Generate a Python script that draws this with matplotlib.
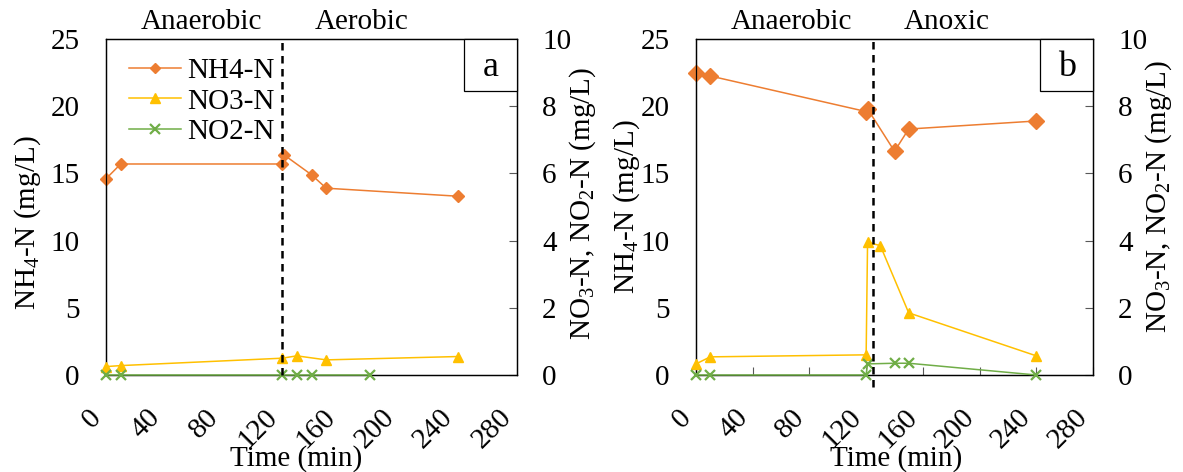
"""
Anaerobic / aerobic / anoxic N profiles (a, b)
"""
import matplotlib
matplotlib.use('Agg')
import matplotlib.pyplot as plt
from matplotlib.patches import Rectangle

plt.rcParams['font.family'] = ['Liberation Serif', 'DejaVu Serif']
plt.rcParams['mathtext.default'] = 'regular'
plt.rcParams['font.size'] = 21

# ── data ───────────────────────────────────────────────────────
time_nh4_a = [0, 10, 120, 121, 140, 150, 240]
nh4_a = [14.6, 15.7, 15.7, 16.4, 14.9, 13.9, 13.3]
time_no3_a = [0, 10, 120, 130, 150, 240]
no3_a = [0.25, 0.28, 0.50, 0.57, 0.45, 0.55]
time_no2_a = [0, 10, 120, 130, 140, 180]
no2_a = [0, 0, 0, 0, 0, 0]

time_nh4_b = [0, 10, 120, 121, 140, 150, 240]
nh4_b = [22.5, 22.25, 19.6, 19.8, 16.65, 18.3, 18.9]
time_no3_b = [0, 10, 120, 121, 130, 150, 240]
no3_b = [0.33, 0.54, 0.6, 3.95, 3.85, 1.85, 0.57]
time_no2_b = [0, 10, 120, 121, 140, 150, 240]
no2_b = [0, 0, 0, 0.33, 0.35, 0.35, 0]

x_ticks = [0, 40, 80, 120, 160, 200, 240, 280]
split_a = 120
split_b = 125
phases_a = ['Anaerobic', 'Aerobic']
phases_b = ['Anaerobic', 'Anoxic']

C_NH4 = '#ED7D31'
C_NO3 = '#FFC000'
C_NO2 = '#70AD47'
TICK_C = '#595959'

fig = plt.figure(figsize=(11.83, 4.72), dpi=100)
W, H = 1183, 472


def panel(rect, t_nh4, nh4, t_no3, no3, t_no2, no2, split, phases, letter,
          ms, xticks_in, dash_low, box_x0, label_pos):
    ax = fig.add_axes(rect)
    ax2 = ax.twinx()

    l1, = ax.plot(t_nh4, nh4, color=C_NH4, lw=1.1, marker='D', ms=ms,
                  clip_on=False, zorder=3, label='NH4-N')
    l2, = ax2.plot(t_no3, no3, color=C_NO3, lw=1.1, marker='^', ms=7.5,
                   clip_on=False, zorder=3, label='NO3-N')
    l3, = ax2.plot(t_no2, no2, color=C_NO2, lw=1.1, marker='x', ms=7.5,
                   mew=1.6, clip_on=False, zorder=3, label='NO2-N')

    ax.set_xlim(0, 280)
    ax.set_ylim(0, 25)
    ax2.set_ylim(0, 10)
    ax.set_xticks(x_ticks)
    ax.set_yticks([0, 5, 10, 15, 20, 25])
    ax2.set_yticks([0, 2, 4, 6, 8, 10])

    if xticks_in:
        ax.tick_params(axis='x', direction='in', length=6, width=0.8,
                       color=TICK_C, pad=21)
    else:
        ax.tick_params(axis='x', length=0, pad=21)
    ax.tick_params(axis='y', length=0, pad=19)
    ax2.tick_params(axis='y', direction='in', length=6, width=0.8,
                    color=TICK_C, pad=18)
    plt.setp(ax.get_xticklabels(), rotation=45, ha='right')

    for a in (ax, ax2):
        for s in a.spines.values():
            s.set_linewidth(0.9)
            s.set_color('black')

    # phase split
    ax2.plot([split, split], [dash_low, 10], color='black', lw=1.8,
             ls=(0, (3, 2.2)), clip_on=False, zorder=4)

    # phase names above
    ax.text((split / 2 + 5) / 280, 1.05, phases[0], transform=ax.transAxes,
            ha='center', va='center')
    ax.text((split + 200) / 2 / 280 + 0.05, 1.05, phases[1],
            transform=ax.transAxes, ha='center', va='center')

    # letter box
    ax2.add_patch(Rectangle((box_x0, 0.845), 1 - box_x0, 0.155,
                            transform=ax2.transAxes, facecolor='white',
                            edgecolor='black', lw=0.9, zorder=5,
                            clip_on=False))
    ax2.text((box_x0 + 1) / 2, 0.915, letter, transform=ax2.transAxes,
             ha='center', va='center', fontsize=26, zorder=6)

    ax.set_xlabel('Time (min)')
    ax.xaxis.set_label_coords(label_pos[0], -0.25)
    ax.xaxis.label.set_va('center')
    ax.set_ylabel('NH$_4$-N (mg/L)')
    ax.yaxis.set_label_coords(label_pos[1], label_pos[2])
    ax.yaxis.label.set_va('center')
    ax2.set_ylabel('NO$_3$-N, NO$_2$-N (mg/L)')
    ax2.yaxis.set_label_coords(label_pos[3], label_pos[4])
    ax2.yaxis.label.set_va('center')
    return ax, ax2, (l1, l2, l3)


# ── (a) anaerobic / aerobic ────────────────────────────────────
ax_a, ax2_a, handles = panel(
    [106 / W, 97 / H, 411 / W, 336 / H],
    time_nh4_a, nh4_a, time_no3_a, no3_a, time_no2_a, no2_a,
    split_a, phases_a, 'a', 6, False, 0, 0.871,
    (0.462, -0.19, 0.452, 1.16, 0.51))

ax2_a.legend(handles=handles, loc='upper left', bbox_to_anchor=(0.056, 0.945),
             frameon=False, borderpad=0, borderaxespad=0, handlelength=1.78,
             handletextpad=0.2, labelspacing=0.15, markerscale=0.9)

# ── (b) anaerobic / anoxic ─────────────────────────────────────
panel([696 / W, 97 / H, 397 / W, 336 / H],
      time_nh4_b, nh4_b, time_no3_b, no3_b, time_no2_b, no2_b,
      split_b, phases_b, 'b', 8, True, -0.36, 0.867,
      (0.504, -0.175, 0.5, 1.165, 0.53))

plt.savefig('out.png', dpi=100)
plt.close()
